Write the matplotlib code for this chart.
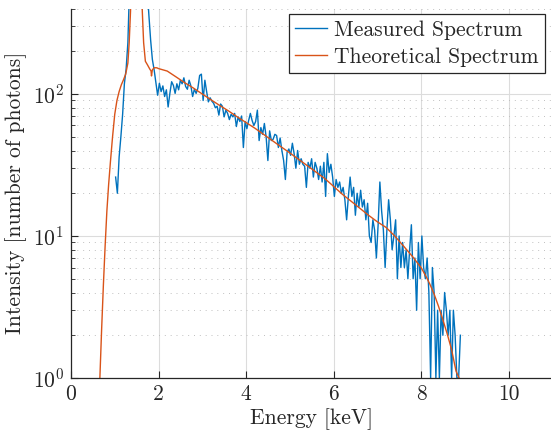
import numpy as np
import matplotlib
matplotlib.use("Agg")
import matplotlib.pyplot as plt
from matplotlib.ticker import LogLocator, NullFormatter

plt.rcParams['font.family'] = 'serif'
plt.rcParams['font.serif'] = ['cmr10']
plt.rcParams['mathtext.fontset'] = 'cm'
plt.rcParams['axes.formatter.use_mathtext'] = True
plt.rcParams['axes.unicode_minus'] = False

# ---------------- data ----------------
measured_start = 1.02
measured_step = 0.04
measured_counts = [
    26, 20, 36, 50, 72, 118, 150, 230, 600, 1500,
    3000, 4500, 5000, 4600, 3500, 2200, 1300, 800, 560, 360,
    240, 175, 148, 120, 98, 119, 104, 114, 96, 107,
    81, 101, 122, 115, 101, 118, 107, 125, 118, 130,
    113, 108, 125, 114, 96, 108, 101, 110, 135, 138,
    90, 125, 104, 88, 94, 89, 86, 80, 82, 71,
    85, 82, 69, 77, 73, 66, 72, 69, 73, 59,
    69, 64, 70, 42, 64, 57, 65, 73, 65, 60,
    64, 77, 47, 58, 52, 62, 50, 34, 55, 47,
    48, 52, 51, 42, 49, 40, 34, 25, 39, 41,
    37, 45, 38, 30, 40, 32, 35, 32, 31, 22,
    33, 30, 35, 26, 33, 30, 25, 31, 24, 33,
    19, 38, 28, 32, 26, 19, 25, 22, 24, 20,
    22, 18, 13, 19, 26, 19, 22, 14, 20, 16,
    21, 16, 18, 13, 17, 10, 9, 13, 11, 7,
    12, 24, 15, 11, 6, 11, 18, 13, 8, 10,
    13, 5, 10, 6, 9, 6, 8, 5, 8, 12,
    5, 7, 3, 9, 5, 10, 6, 5, 7, 4,
    1, 6, 4, 1, 3, 1, 3, 2, 4, 3,
    2, 3, 1, 3, 2, 1, 1, 2,
]
measured_energy = measured_start + measured_step * np.arange(len(measured_counts))

theory_energy = [
    0.64, 0.66, 0.70, 0.74, 0.78, 0.82, 0.86, 0.90, 0.95, 1.00,
    1.05, 1.10, 1.15, 1.20, 1.25, 1.30, 1.33, 1.36, 1.40, 1.45,
    1.50, 1.55, 1.60, 1.63, 1.66, 1.70, 1.75, 1.80, 1.83, 1.84,
    1.86, 1.90, 1.96, 2.0, 2.2, 2.4, 2.6, 2.8, 3.0, 3.2,
    3.4, 3.6, 3.8, 4.0, 4.2, 4.4, 4.6, 4.8, 5.0, 5.2,
    5.4, 5.6, 5.8, 6.0, 6.2, 6.4, 6.6, 6.8, 7.0, 7.2,
    7.4, 7.6, 7.8, 8.0, 8.1, 8.2, 8.3, 8.4, 8.5, 8.6,
    8.7, 8.8, 8.87, 8.9,
]
theory_counts = [
    0.5, 1.0, 2.2, 4.5, 8.5, 15, 23, 33, 50, 72,
    90, 104, 116, 126, 138, 165, 230, 380, 1000, 3000,
    5000, 3000, 900, 380, 230, 170, 160, 150, 145, 134,
    148, 153, 153, 151, 145, 132, 120, 110, 100, 91,
    83, 76, 69, 63, 57.5, 52, 47, 42.5, 38.5, 34.7,
    31.3, 28.2, 25.4, 22.4, 19.7, 17.6, 15.7, 14.0, 12.6, 11.5,
    10.0, 8.5, 7.2, 6.0, 5.3, 4.6, 3.9, 3.2, 2.57, 2.04,
    1.58, 1.12, 1.0, 0.7,
]

x_ticks = [0, 2, 4, 6, 8, 10]
series_labels = ['Measured Spectrum', 'Theoretical Spectrum']

# ---------------- figure ----------------
W, H = 551, 441
fig = plt.figure(figsize=(W / 100, H / 100), dpi=100)
ax = fig.add_axes([71 / W, 63 / H, 481.25 / W, 369.5 / H])

blue = '#0072BD'
red = '#D95319'
txt = '#262626'

ax.plot(measured_energy, measured_counts, color=blue, lw=1.0, label=series_labels[0])
ax.plot(theory_energy, theory_counts, color=red, lw=1.0, label=series_labels[1])

ax.set_yscale('log')
ax.set_xlim(0, 11)
ax.set_ylim(1, 400)
ax.set_xticks(x_ticks)
ax.set_xticklabels([str(t) for t in x_ticks])
ax.yaxis.set_major_locator(LogLocator(base=10, numticks=10))
ax.yaxis.set_minor_locator(LogLocator(base=10, subs=np.arange(2, 10), numticks=20))
ax.yaxis.set_minor_formatter(NullFormatter())

ax.grid(True, which='major', color='#dcdcdc', lw=0.8)
ax.grid(True, which='minor', axis='y', color='#c0c0c0', lw=0.7, linestyle=(0, (1, 5)))
ax.set_axisbelow(True)

for s in ['top', 'right']:
    ax.spines[s].set_visible(False)
for s in ['left', 'bottom']:
    ax.spines[s].set_color(txt)
    ax.spines[s].set_linewidth(0.9)

ax.tick_params(which='major', direction='in', length=5, width=0.8, colors=txt,
               labelsize=15.5, pad=5)
ax.tick_params(which='minor', direction='in', length=3, width=0.6, colors=txt)

ax.set_xlabel('Energy [keV]', fontsize=15.5, color=txt, labelpad=3)
ax.set_ylabel('Intensity [number of photons]', fontsize=15.5, color=txt, labelpad=4)

leg = ax.legend(loc='upper right', bbox_to_anchor=(545 / W, 427 / H),
                bbox_transform=fig.transFigure, borderaxespad=0,
                fontsize=15.5, frameon=True, fancybox=False, framealpha=1,
                edgecolor=txt, handlelength=1.5, handletextpad=0.3,
                borderpad=0.3, labelspacing=0.35)
leg.get_frame().set_linewidth(0.9)
for t in leg.get_texts():
    t.set_color(txt)

fig.savefig('out.png', dpi=100)
